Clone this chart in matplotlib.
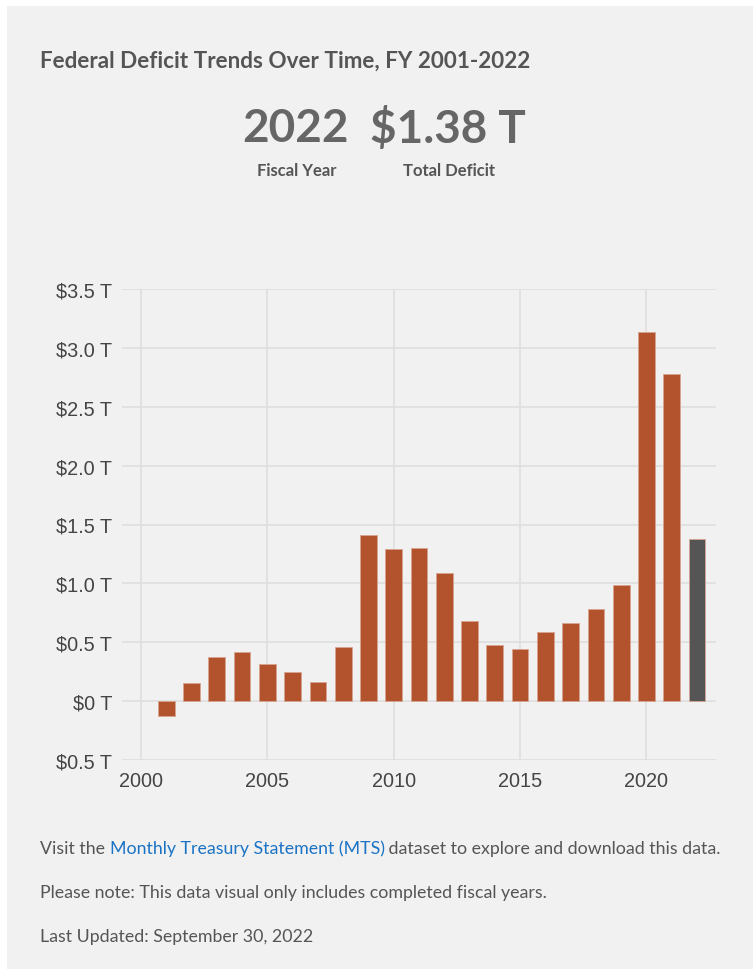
import numpy as np
import matplotlib
matplotlib.use("Agg")
import matplotlib.pyplot as plt
from matplotlib.patches import Rectangle

# ── Data ──────────────────────────────────────────────────────────────────────
years    = [2001, 2002, 2003, 2004, 2005, 2006, 2007, 2008, 2009, 2010, 2011,
            2012, 2013, 2014, 2015, 2016, 2017, 2018, 2019, 2020, 2021, 2022]
deficits = [-0.128, 0.158, 0.378, 0.413, 0.318, 0.248, 0.161, 0.459, 1.413,
            1.294, 1.300, 1.087, 0.680, 0.480, 0.442, 0.585, 0.665, 0.779,
            0.984, 3.132, 2.775, 1.380]
y_ticks  = [-0.5, 0, 0.5, 1.0, 1.5, 2.0, 2.5, 3.0, 3.5]
y_labels = ["$0.5 T", "$0 T", "$0.5 T", "$1.0 T", "$1.5 T", "$2.0 T",
            "$2.5 T", "$3.0 T", "$3.5 T"]
x_ticks  = [2000, 2005, 2010, 2015, 2020]

W, H = 753, 978
BG   = "#f1f1f1"
BAR  = "#b3532d"
LAST = "#555555"
TXT  = "#555555"


def fx(x):
    return x / W


def fy(y):
    return 1 - y / H


fig = plt.figure(figsize=(W / 100, H / 100), dpi=100, facecolor="white")
fig.patches.append(Rectangle((fx(7), fy(970)), fx(W - 7), (970 - 7) / H,
                             transform=fig.transFigure, facecolor=BG,
                             edgecolor="none", zorder=-10))

# ── Header ────────────────────────────────────────────────────────────────────
fig.text(fx(40), fy(61), "Federal Deficit Trends Over Time, FY 2001-2022",
         family="Lato", weight="bold", fontsize=16.2, color=TXT, va="center")
fig.text(fx(296), fy(129), "2022", family="Lato", weight="bold",
         fontsize=33, color="#666666", ha="center", va="center")
fig.text(fx(448), fy(129), "$1.38 T", family="Lato", weight="bold",
         fontsize=33, color="#666666", ha="center", va="center")
fig.text(fx(297), fy(171), "Fiscal Year", family="Lato", weight="bold",
         fontsize=12, color=TXT, ha="center", va="center")
fig.text(fx(449), fy(171), "Total Deficit", family="Lato", weight="bold",
         fontsize=12, color=TXT, ha="center", va="center")

# ── Chart ─────────────────────────────────────────────────────────────────────
ax = fig.add_axes([fx(122), fy(761), fx(716 - 122), (761 - 290) / H])
ax.set_facecolor(BG)
colors = [BAR] * (len(years) - 1) + [LAST]
ax.bar(years, deficits, width=0.66, color=colors, edgecolor="#d8a48e",
       linewidth=0.6, zorder=3)
ax.set_xlim(1999.25, 2022.75)
ax.set_ylim(-0.5, 3.5)
ax.set_yticks(y_ticks)
ax.set_yticklabels(y_labels)
ax.set_xticks(x_ticks)
ax.grid(True, color="#dedede", linewidth=1.2, zorder=0)
for s in ax.spines.values():
    s.set_visible(False)
ax.tick_params(length=0, labelsize=14.3, labelcolor="#444444")
ax.tick_params(axis="y", pad=7)
ax.tick_params(axis="x", pad=8)
for lbl in ax.get_xticklabels() + ax.get_yticklabels():
    lbl.set_family("Liberation Sans")

# ── Footer ────────────────────────────────────────────────────────────────────
fig.canvas.draw()
r = fig.canvas.get_renderer()
x = fx(40)
for part, col in [("Visit the ", TXT),
                  ("Monthly Treasury Statement (MTS)", "#1a73c4"),
                  (" dataset to explore and download this data.", TXT)]:
    t = fig.text(x, fy(849), part, family="Lato", fontsize=12.8, color=col,
                 va="center")
    bb = t.get_window_extent(renderer=r)
    x = bb.x1 / fig.bbox.width
fig.text(fx(40), fy(893),
         "Please note: This data visual only includes completed fiscal years.",
         family="Lato", fontsize=12.8, color=TXT, va="center")
fig.text(fx(40), fy(937), "Last Updated: September 30, 2022",
         family="Lato", fontsize=12.8, color=TXT, va="center")

fig.savefig("out.png", dpi=100, facecolor=fig.get_facecolor())
